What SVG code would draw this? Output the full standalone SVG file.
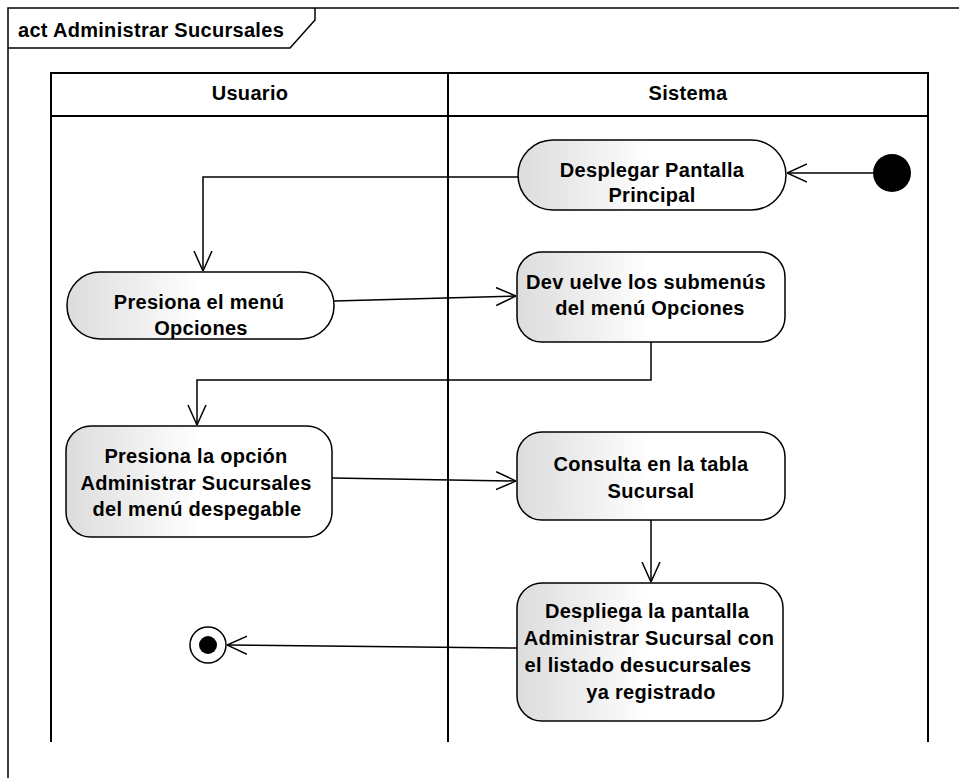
<svg xmlns="http://www.w3.org/2000/svg" width="959" height="778" viewBox="0 0 959 778">
<style>
text{font-family:"Liberation Sans",Arial,sans-serif;font-weight:bold;font-size:20px;letter-spacing:0.3px;fill:#000;text-anchor:middle}
.node{fill:url(#g);stroke:#000;stroke-width:1.5}
.ln{fill:none;stroke:#000;stroke-width:1.5}
.edge{fill:none;stroke:#000;stroke-width:1.5;marker-end:url(#arr)}
</style>
<defs>
<linearGradient id="g" x1="0" y1="0" x2="1" y2="0">
<stop offset="0" stop-color="#dcdcdc"/>
<stop offset="0.5" stop-color="#ffffff"/>
<stop offset="1" stop-color="#ffffff"/>
</linearGradient>
<marker id="arr" viewBox="0 0 20 20" refX="20" refY="10" markerWidth="20" markerHeight="20" markerUnits="userSpaceOnUse" orient="auto">
<path d="M0,1 L20,10 L0,19" fill="none" stroke="#000" stroke-width="1.5"/>
</marker>
</defs>
<rect width="959" height="778" fill="#fff"/>
<g id="frame">
<path class="ln" d="M8,778 V8 H959"/>
<path class="ln" d="M8,48 H290 L315,20 V8"/>
<text x="18" y="37" style="text-anchor:start">act Administrar Sucursales</text>
</g>
<g id="lanes">
<path d="M51,742 V73 H928 V742 M448,73 V742 M51,116 H928" fill="none" stroke="#000" stroke-width="2"/>
<text x="250" y="100">Usuario</text>
<text x="688" y="100">Sistema</text>
</g>
<g id="connectors">
<path class="edge" d="M873,173 H787"/>
<path class="edge" d="M518,177 H203 V271"/>
<path class="edge" d="M334,301 L516,296"/>
<path class="edge" d="M651,342 V380 H197 V425"/>
<path class="edge" d="M332,478 L516,481"/>
<path class="edge" d="M651,520 V582"/>
<path class="edge" d="M517,648 L227,645"/>
</g>
<g id="start"><circle cx="892" cy="173" r="19" fill="#000"/></g>
<g id="n1">
<rect class="node" x="518" y="140" width="268" height="70" rx="35"/>
<text x="652" y="177">Desplegar Pantalla</text>
<text x="652" y="202">Principal</text>
</g>
<g id="n2">
<rect class="node" x="67" y="272" width="267" height="67" rx="33"/>
<text x="199" y="309">Presiona el menú</text>
<text x="201" y="335">Opciones</text>
</g>
<g id="n3">
<rect class="node" x="517" y="252" width="268" height="90" rx="25"/>
<text x="646" y="289">Dev uelve los submenús</text>
<text x="650" y="315">del menú Opciones</text>
</g>
<g id="n4">
<rect class="node" x="66" y="426" width="266" height="111" rx="25"/>
<text x="196" y="463">Presiona la opción</text>
<text x="196" y="490">Administrar Sucursales</text>
<text x="197" y="516">del menú despegable</text>
</g>
<g id="n5">
<rect class="node" x="517" y="432" width="268" height="88" rx="25"/>
<text x="651" y="471">Consulta en la tabla</text>
<text x="651" y="498">Sucursal</text>
</g>
<g id="n6">
<rect class="node" x="517" y="583" width="266" height="138" rx="25"/>
<text x="647" y="618">Despliega la pantalla</text>
<text x="649" y="645">Administrar Sucursal con</text>
<text x="638" y="672">el listado desucursales</text>
<text x="651" y="699">ya registrado</text>
</g>
<g id="end">
<circle cx="208" cy="645" r="18" fill="#fff" stroke="#000" stroke-width="1.5"/>
<circle cx="208" cy="645" r="9" fill="#000"/>
</g>
</svg>
